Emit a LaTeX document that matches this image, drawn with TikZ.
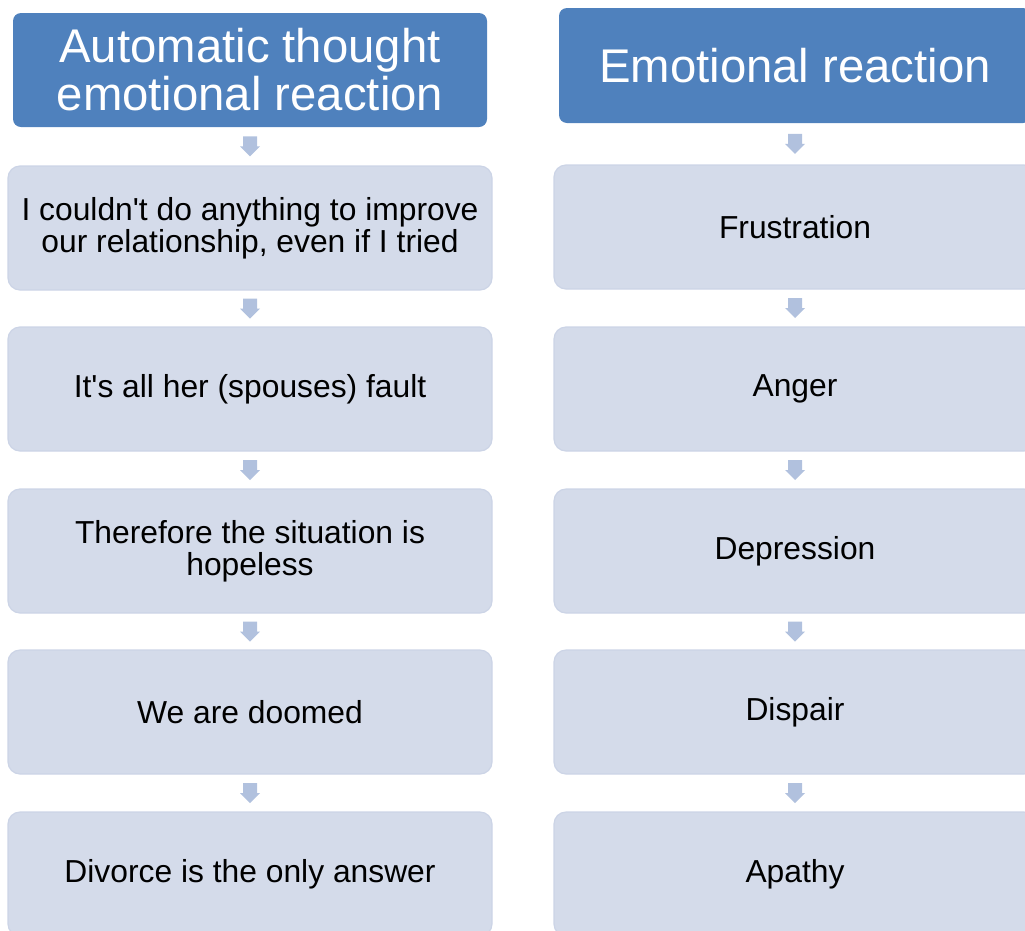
\documentclass[tikz,border=0pt]{standalone}
\usepackage{fontspec}
\setmainfont{Liberation Sans}
\usetikzlibrary{calc}
\definecolor{headblue}{HTML}{4F81BD}
\definecolor{boxfill}{HTML}{D4DBEA}
\definecolor{boxedge}{HTML}{CCD4E6}
\definecolor{arrowfill}{HTML}{B1C1DE}
\tikzset{
  header/.style={fill=headblue, rounded corners=8pt, text=white, align=center,
    inner sep=0pt, font=\fontsize{47.3}{48}\selectfont},
  stepbox/.style={fill=boxfill, draw=boxedge, line width=1.2pt, rounded corners=12pt,
    align=center, inner sep=0pt, minimum height=124pt, font=\fontsize{31.8}{32}\selectfont},
  leftcol/.style={minimum width=484pt},
  rightcol/.style={minimum width=482pt},
  flowarrow/.style={fill=arrowfill}
}
% small block arrow centred between two stacked boxes
\newcommand{\blockarrow}[2]{%
  \path (#1.south) -- (#2.north) coordinate[pos=0.5] (m-#1);
  \fill[flowarrow] ([shift={(-7pt,10pt)}]m-#1) -- ([shift={(7pt,10pt)}]m-#1)
    -- ([shift={(7pt,0pt)}]m-#1) -- ([shift={(10pt,0pt)}]m-#1)
    -- ([shift={(0pt,-10pt)}]m-#1) -- ([shift={(-10pt,0pt)}]m-#1)
    -- ([shift={(-7pt,0pt)}]m-#1) -- cycle;}
\begin{document}
\begin{tikzpicture}[x=1pt,y=-1pt]
\useasboundingbox (0,0) rectangle (1025,930);
\clip (0,0) rectangle (1025,930);
% left column: thoughts
\node[header, minimum width=474pt, minimum height=114pt] (lh) at (250,70)
  {Automatic thought\\emotional reaction};
\node[stepbox, leftcol] (l1) at (250,228) {I couldn\textquotesingle t do anything to improve\\our relationship, even if I tried};
\node[stepbox, leftcol] (l2) at (250,389) {It\textquotesingle s all her (spouses) fault};
\node[stepbox, leftcol] (l3) at (250,551) {Therefore the situation is\\hopeless};
\node[stepbox, leftcol] (l4) at (250,712) {We are doomed};
\node[stepbox, leftcol] (l5) at (250,874) {Divorce is the only answer};
% right column: emotions
\node[header, minimum width=472pt, minimum height=115pt] (rh) at (795,65.5)
  {Emotional reaction};
\node[stepbox, rightcol] (r1) at (795,227) {Frustration};
\node[stepbox, rightcol] (r2) at (795,389) {Anger};
\node[stepbox, rightcol] (r3) at (795,551) {Depression};
\node[stepbox, rightcol] (r4) at (795,712) {Dispair};
\node[stepbox, rightcol] (r5) at (795,874) {Apathy};
% arrows
\blockarrow{lh}{l1}
\blockarrow{l1}{l2}
\blockarrow{l2}{l3}
\blockarrow{l3}{l4}
\blockarrow{l4}{l5}
\blockarrow{rh}{r1}
\blockarrow{r1}{r2}
\blockarrow{r2}{r3}
\blockarrow{r3}{r4}
\blockarrow{r4}{r5}
\end{tikzpicture}
\end{document}
